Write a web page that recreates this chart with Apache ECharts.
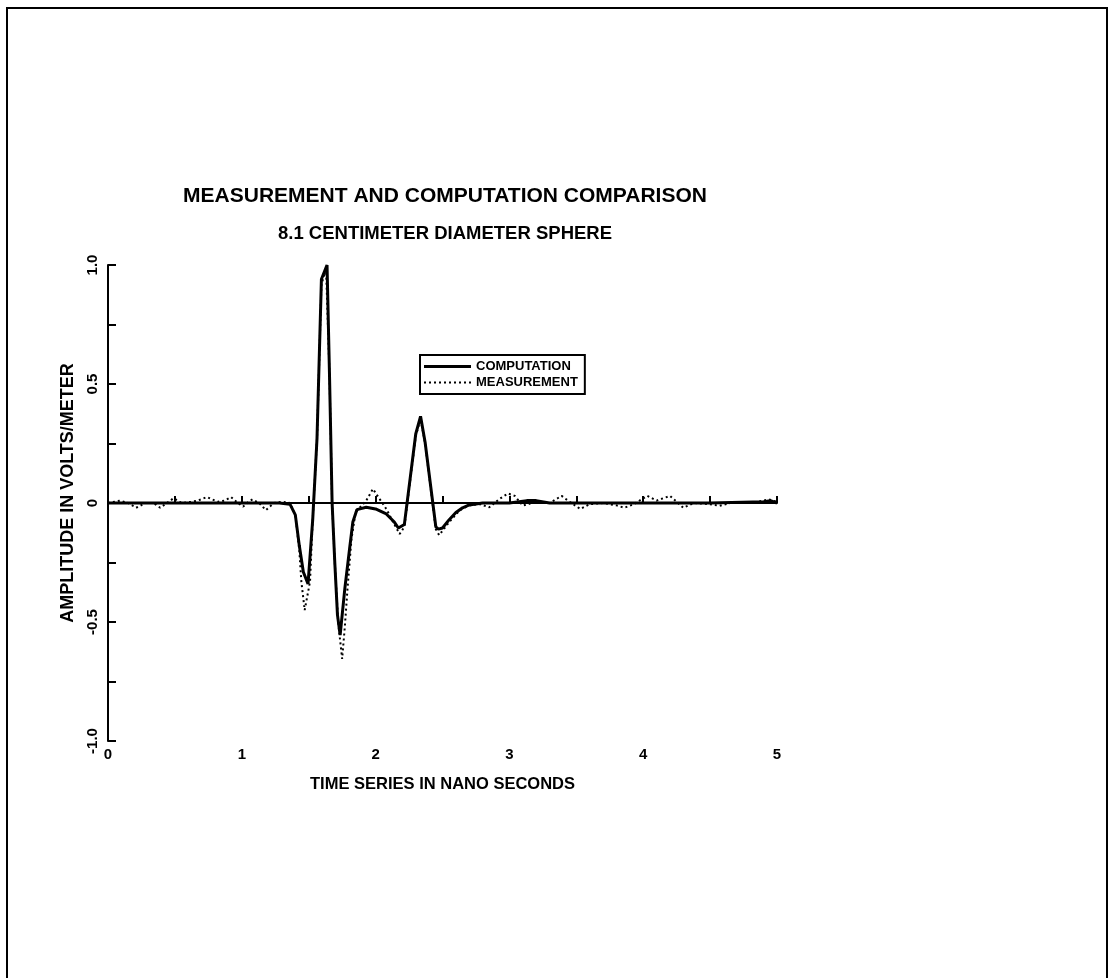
<!DOCTYPE html>
<html>
<head>
<meta charset="utf-8">
<script src="https://cdn.jsdelivr.net/npm/echarts@6.0.0/dist/echarts.min.js"></script>
<style>
  html, body { margin: 0; padding: 0; background: #fff; }
  #chart { width: 1112px; height: 978px; }
</style>
</head>
<body>
<div id="chart"></div>
<script>
// computation (solid) - time in ns, amplitude in V/m
var compTime = [0, 0.5, 1.0, 1.28, 1.36, 1.40, 1.43, 1.46, 1.495, 1.53, 1.562, 1.595, 1.637, 1.655, 1.675, 1.695, 1.715, 1.735,
    1.77, 1.806, 1.83, 1.86, 1.93, 2.0, 2.08, 2.14, 2.17, 2.215, 2.30, 2.336, 2.37, 2.45, 2.47, 2.50, 2.55, 2.60, 2.65, 2.70,
    2.80, 3.0, 3.13, 3.2, 3.3, 3.5, 4.0, 4.5, 4.9, 4.95, 5.0];
var compValues = [0, 0, 0, 0, -0.005, -0.05, -0.18, -0.29, -0.34, -0.07, 0.27, 0.94, 1.0, 0.55, 0.0, -0.25, -0.47, -0.555,
    -0.36, -0.19, -0.08, -0.028, -0.018, -0.025, -0.046, -0.08, -0.105, -0.09, 0.29, 0.364, 0.255, -0.1, -0.11, -0.105, -0.07, -0.04, -0.02, -0.008,
    0, 0, 0.01, 0.01, 0, 0, 0, 0, 0.005, 0.01, 0];

// measurement (dotted)
var measTime = [0, 0.09, 0.15, 0.21, 0.28, 0.34, 0.39, 0.44, 0.49, 0.55, 0.62, 0.67, 0.74, 0.82, 0.87, 0.92, 0.97, 1.01, 1.05,
    1.08, 1.13, 1.18, 1.24, 1.30, 1.36, 1.40, 1.43, 1.445, 1.47, 1.51, 1.53, 1.562, 1.595, 1.63, 1.655, 1.675, 1.695, 1.72,
    1.75, 1.77, 1.79, 1.82, 1.85, 1.88, 1.93, 1.98, 2.03, 2.08, 2.14, 2.18, 2.215, 2.30, 2.336, 2.37, 2.45, 2.475, 2.55,
    2.63, 2.70, 2.78, 2.85, 2.925, 2.99, 3.04, 3.10, 3.2, 3.3, 3.39, 3.45, 3.53, 3.6, 3.7, 3.8, 3.86, 3.93, 4.03, 4.1, 4.2,
    4.25, 4.3, 4.38, 4.5, 4.57, 4.65, 4.8, 4.9, 4.94, 5.0];
var measValues = [0, 0.01, 0, -0.02, 0, 0, -0.02, 0, 0.02, 0, 0.005, 0.01, 0.025, 0.005, 0.01, 0.025, 0, -0.015, 0.005,
    0.015, 0, -0.03, 0, 0.005, 0, -0.05, -0.2, -0.33, -0.45, -0.33, -0.07, 0.27, 0.92, 0.98, 0.55, 0.0, -0.25, -0.5,
    -0.655, -0.52, -0.36, -0.15, -0.04, -0.02, 0.01, 0.059, 0.017, -0.025, -0.09, -0.13, -0.1, 0.28, 0.355, 0.25, -0.11, -0.135, -0.08,
    -0.03, -0.01, -0.005, -0.018, 0.017, 0.04, 0.03, -0.011, 0.005, 0, 0.03, 0.005, -0.025, -0.005, 0, -0.01, -0.02, -0.005, 0.03, 0.01, 0.03,
    0.005, -0.02, 0, -0.005, -0.012, 0, 0, 0.01, 0.015, 0.005];

var seriesNames = ['COMPUTATION', 'MEASUREMENT'];
var xTickLabels = ['0', '1', '2', '3', '4', '5'];
var yTickLabels = { '1': '1.0', '0.5': '0.5', '0': '0', '-0.5': '-0.5', '-1': '-1.0' };

function pairs(xs, ys) {
    var out = [];
    for (var i = 0; i < xs.length; i++) out.push([xs[i], ys[i]]);
    return out;
}

// legend keys: a plain bar for the solid line, a row of small squares for the dotted one
var solidKey = 'path://M0,0h47v3h-47z';
var dottedKey = 'path://';
for (var d = 0; d < 10; d++) {
    dottedKey += 'M' + (d * 5) + ',0h2v2h-2z';
}

var font = '"Liberation Sans", Arial, sans-serif';

var myChart = echarts.init(document.getElementById('chart'), null, { renderer: 'canvas' });

myChart.setOption({
    backgroundColor: '#fff',
    animation: false,
    textStyle: { fontFamily: font, color: '#000' },
    title: {
        text: 'MEASUREMENT AND COMPUTATION COMPARISON',
        subtext: '8.1 CENTIMETER DIAMETER SPHERE',
        left: 445,
        top: 186,
        padding: 0,
        textAlign: 'center',
        itemGap: 17,
        textStyle: { fontFamily: font, fontWeight: 'bold', fontSize: 21, color: '#000' },
        subtextStyle: { fontFamily: font, fontWeight: 'bold', fontSize: 18.5, color: '#000' }
    },
    legend: {
        data: [
            { name: seriesNames[0], icon: solidKey },
            { name: seriesNames[1], icon: dottedKey }
        ],
        orient: 'vertical',
        left: 420,
        top: 355,
        padding: [5, 7, 5, 4],
        itemGap: 3,
        itemWidth: 47,
        itemHeight: 14,
        borderColor: '#000',
        borderWidth: 2,
        borderRadius: 0,
        textStyle: { fontFamily: font, fontWeight: 'bold', fontSize: 13, color: '#000' }
    },
    grid: {
        left: 108,
        right: 335,
        top: 265,
        bottom: 237,
        containLabel: false
    },
    xAxis: {
        type: 'value',
        min: 0,
        max: 5,
        interval: 0.5,
        name: 'TIME SERIES IN NANO SECONDS',
        nameLocation: 'middle',
        nameGap: 35,
        nameTextStyle: { fontFamily: font, fontWeight: 'bold', fontSize: 16.5, color: '#000' },
        axisLine: { lineStyle: { color: '#000', width: 2 } },
        axisTick: { inside: true, length: 7, lineStyle: { color: '#000', width: 2 } },
        axisLabel: {
            color: '#000',
            fontWeight: 'bold',
            fontSize: 15,
            margin: 6,
            formatter: function (v) {
                return v % 1 === 0 ? xTickLabels[v] : '';
            }
        },
        splitLine: { show: false }
    },
    yAxis: {
        type: 'value',
        min: -1,
        max: 1,
        interval: 0.25,
        name: 'AMPLITUDE IN VOLTS/METER',
        nameLocation: 'middle',
        nameRotate: 90,
        nameGap: 30,
        nameTextStyle: { fontFamily: font, fontWeight: 'bold', fontSize: 18, color: '#000', padding: [0, 0, 0, 20] },
        axisLine: { lineStyle: { color: '#000', width: 2 } },
        axisTick: { inside: true, length: 8, lineStyle: { color: '#000', width: 2 } },
        axisLabel: {
            color: '#000',
            fontWeight: 'bold',
            fontSize: 15,
            rotate: 90,
            margin: 8,
            formatter: function (v) {
                var key = String(v);
                return yTickLabels[key] !== undefined ? yTickLabels[key] : '';
            }
        },
        splitLine: { show: false }
    },
    graphic: [{
        type: 'rect',
        shape: { x: 7, y: 8, width: 1100, height: 1000 },
        style: { fill: 'none', stroke: '#000', lineWidth: 2 },
        silent: true
    }],
    series: [
        {
            name: 'MEASUREMENT',
            type: 'line',
            symbol: 'none',
            data: pairs(measTime, measValues),
            lineStyle: { color: '#000', width: 2, type: [2, 3] },
            itemStyle: { color: '#000' },
            z: 2
        },
        {
            name: 'COMPUTATION',
            type: 'line',
            symbol: 'none',
            data: pairs(compTime, compValues),
            lineStyle: { color: '#000', width: 3 },
            itemStyle: { color: '#000' },
            z: 3
        }
    ]
});
</script>
</body>
</html>
